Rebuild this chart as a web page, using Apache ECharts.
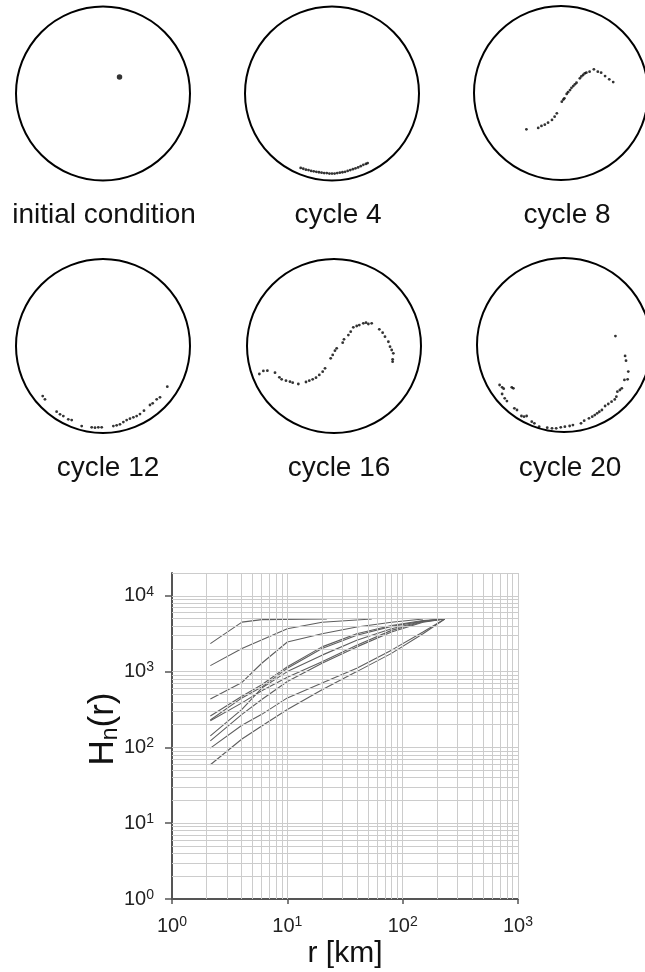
<!DOCTYPE html>
<html><head><meta charset="utf-8">
<script src="https://cdn.jsdelivr.net/npm/echarts@6/dist/echarts.min.js"></script>
<style>html,body{margin:0;padding:0;background:#fff}#c{width:645px;height:972px}</style>
</head><body><div id="c"></div>
<script>
// ---------------- data ----------------
const panelLabels = ['initial condition', 'cycle 4', 'cycle 8', 'cycle 12', 'cycle 16', 'cycle 20'];

// dot positions inside each unit circle (x, y in [-1, 1])
const initialDots = [[0.19, 0.19]];
const cycle4Dots = [[-0.36,-0.855],[-0.33,-0.865],[-0.30,-0.875],[-0.27,-0.88],[-0.24,-0.89],[-0.21,-0.895],[-0.18,-0.90],[-0.15,-0.905],[-0.12,-0.91],[-0.09,-0.915],[-0.06,-0.915],[-0.03,-0.92],[0.00,-0.92],[0.03,-0.92],[0.06,-0.915],[0.09,-0.91],[0.12,-0.905],[0.15,-0.90],[0.18,-0.89],[0.21,-0.88],[0.24,-0.87],[0.27,-0.86],[0.30,-0.85],[0.33,-0.835],[0.36,-0.82],[0.39,-0.81],[0.41,-0.80]];
const cycle8Dots = [[-0.387,-0.418],[-0.249,-0.402],[-0.211,-0.379],[-0.172,-0.364],[-0.134,-0.341],[-0.088,-0.310],[-0.057,-0.272],[-0.031,-0.234],[0.027,-0.100],[0.045,-0.075],[0.057,-0.061],[0.084,-0.011],[0.10,0.01],[0.123,0.034],[0.14,0.06],[0.161,0.080],[0.18,0.10],[0.199,0.118],[0.238,0.169],[0.255,0.19],[0.276,0.207],[0.295,0.225],[0.314,0.234],[0.352,0.245],[0.402,0.272],[0.448,0.245],[0.487,0.234],[0.533,0.195],[0.582,0.157],[0.628,0.126]];
const cycle12Dots = [[-0.693,-0.575],[-0.667,-0.613],[-0.533,-0.755],[-0.494,-0.785],[-0.456,-0.805],[-0.399,-0.843],[-0.360,-0.851],[-0.245,-0.920],[-0.130,-0.935],[-0.092,-0.939],[-0.054,-0.935],[-0.015,-0.935],[0.119,-0.920],[0.157,-0.912],[0.195,-0.900],[0.234,-0.874],[0.272,-0.851],[0.310,-0.835],[0.349,-0.820],[0.387,-0.805],[0.425,-0.782],[0.471,-0.743],[0.540,-0.678],[0.571,-0.659],[0.617,-0.613],[0.655,-0.590],[0.739,-0.467]];
const cycle16Dots = [[-0.858,-0.322],[-0.812,-0.287],[-0.766,-0.284],[-0.678,-0.307],[-0.628,-0.360],[-0.602,-0.383],[-0.552,-0.399],[-0.506,-0.410],[-0.475,-0.422],[-0.410,-0.437],[-0.322,-0.414],[-0.284,-0.399],[-0.245,-0.383],[-0.207,-0.364],[-0.169,-0.333],[-0.130,-0.295],[-0.103,-0.257],[-0.038,-0.142],[-0.015,-0.103],[0.011,-0.054],[0.031,-0.027],[0.100,0.038],[0.115,0.077],[0.165,0.126],[0.192,0.165],[0.222,0.215],[0.261,0.230],[0.291,0.241],[0.337,0.261],[0.368,0.268],[0.395,0.253],[0.433,0.261],[0.521,0.192],[0.559,0.153],[0.586,0.107],[0.625,0.049],[0.644,-0.008],[0.663,-0.046],[0.682,-0.084],[0.674,-0.153],[0.674,-0.180]];
const cycle20Dots = [[-0.731,-0.460],[-0.701,-0.486],[-0.682,-0.502],[-0.701,-0.563],[-0.670,-0.613],[-0.644,-0.644],[-0.586,-0.486],[-0.567,-0.498],[-0.555,-0.728],[-0.524,-0.747],[-0.471,-0.816],[-0.440,-0.824],[-0.409,-0.816],[-0.348,-0.881],[-0.317,-0.900],[-0.260,-0.939],[-0.164,-0.950],[-0.107,-0.958],[-0.057,-0.958],[-0.003,-0.946],[0.046,-0.939],[0.103,-0.931],[0.142,-0.920],[0.238,-0.900],[0.276,-0.870],[0.333,-0.843],[0.372,-0.824],[0.402,-0.805],[0.430,-0.785],[0.456,-0.767],[0.487,-0.747],[0.525,-0.701],[0.563,-0.678],[0.602,-0.651],[0.640,-0.625],[0.659,-0.594],[0.671,-0.536],[0.701,-0.517],[0.724,-0.498],[0.755,-0.402],[0.793,-0.395],[0.801,-0.306],[0.774,-0.180],[0.763,-0.126],[0.648,0.103]];

// H_n(r) curves: [r (km), H]
const curve1 = [[2.15,2340],[4.04,4500],[6,4850],[22,4950]];
const curve2 = [[2.15,1200],[4.04,2020],[10,3680],[20,4490],[54,4950]];
const curve3 = [[2.15,436],[4.04,720],[6,1290],[10,2460],[20,3160],[40,3870],[80,4490],[150,4950]];
const curve4 = [[2.15,259],[4.04,473],[6,671],[10,1160],[20,2120],[40,3160],[80,4060],[150,4720],[232,4950]];
const curve5 = [[2.15,230],[4.04,450],[6,625],[10,1105],[20,2020],[40,3010],[80,3950],[150,4630],[232,4950]];
const curve6 = [[2.15,142],[4.04,317],[6,607],[10,1000],[20,1650],[40,2590],[80,3680],[150,4630],[232,4950]];
const curve7 = [[2.15,122],[4.04,273],[6,428],[10,742],[20,1290],[40,2120],[80,3330],[150,4490],[232,4950]];
const curve8 = [[2.15,98],[4.04,196],[6,273],[10,450],[20,706],[40,1105],[80,1920],[150,3330],[232,4950]];
const curve9 = [[2.15,59],[4.04,129],[6,192],[10,317],[20,578],[40,1000],[80,1740],[150,3160],[232,4950]];
const curve10 = [[2.15,225],[4.04,387],[6,560],[10,845],[20,1350],[40,2230],[80,3500],[150,4560],[232,4950]];
const hCurves = [curve1, curve2, curve3, curve4, curve5, curve6, curve7, curve8, curve9, curve10];

const rTickValues = [1, 10, 100, 1000];
const hTickValues = [1, 10, 100, 1000, 10000];
const rRange = [1, 1000];
const hRange = [1, 20000];

// ---------------- layout / style ----------------
const FONT = '"Liberation Sans", Arial, Helvetica, sans-serif';
const R = 87;
const centers = [[103, 93.5], [332, 93.5], [561, 93], [103, 346], [334, 346], [564, 345]];
const labelPos = [[99, 196], [333, 196], [562, 196], [103, 449], [334, 449], [565, 449]];
const dotSets = [initialDots, cycle4Dots, cycle8Dots, cycle12Dots, cycle16Dots, cycle20Dots];

// log grid lines (1..9 x decades)
const xGridVals = [];
[1, 10, 100].forEach(d => { for (let m = 1; m <= 9; m++) { if (m * d > rRange[0]) xGridVals.push(m * d); } });
xGridVals.push(1000);
const yGridVals = [];
[1, 10, 100, 1000].forEach(d => { for (let m = 1; m <= 9; m++) { if (m * d > hRange[0]) yGridVals.push(m * d); } });
yGridVals.push(10000, 20000);

const grids = [], xAxes = [], yAxes = [], polars = [], angleAxes = [], radiusAxes = [], series = [], titles = [];

centers.forEach((c, i) => {
  grids.push({ left: c[0] - R, top: c[1] - R, width: 2 * R, height: 2 * R });
  xAxes.push({ gridIndex: i, type: 'value', min: -1, max: 1, show: false });
  yAxes.push({ gridIndex: i, type: 'value', min: -1, max: 1, show: false });
  polars.push({ center: [c[0], c[1]], radius: R });
  angleAxes.push({ polarIndex: i, type: 'value', min: 0, max: 360, axisLine: { show: true, lineStyle: { color: '#000', width: 2 } }, axisTick: { show: false }, axisLabel: { show: false }, splitLine: { show: false } });
  radiusAxes.push({ polarIndex: i, type: 'value', min: 0, max: 1, show: false, axisLine: { show: false }, splitLine: { show: false } });
  series.push({
    type: 'scatter', xAxisIndex: i, yAxisIndex: i, data: dotSets[i],
    symbol: 'circle', symbolSize: i === 0 ? 5.5 : 2.8, itemStyle: { color: '#000' }, silent: true
  });
  titles.push({
    text: panelLabels[i], left: labelPos[i][0], top: labelPos[i][1], textAlign: 'center',
    textStyle: { fontSize: 28, fontWeight: 'normal', color: '#111', fontFamily: FONT }
  });
});

// main chart
const G = 6;
grids.push({ left: 172, top: 573, right: 127, bottom: 73 });
const labelFmt = v => '10{s|' + Math.round(Math.log10(v)) + '}';
const labelRich = { s: { fontSize: 14, lineHeight: 14, verticalAlign: 'top', color: '#222', fontFamily: FONT } };
xAxes.push({
  gridIndex: G, type: 'log', logBase: 10, min: rRange[0], max: rRange[1],
  axisLine: { show: true, lineStyle: { color: '#555', width: 2 } },
  axisTick: { show: true, length: 5, customValues: rTickValues, lineStyle: { color: '#555', width: 1.5 } },
  axisLabel: { customValues: rTickValues, formatter: labelFmt, rich: labelRich, fontSize: 20, lineHeight: 22, color: '#222', fontFamily: FONT, margin: 16 },
  splitLine: { show: false },
  name: 'r [km]', nameLocation: 'middle', nameGap: 40, nameMoveOverlap: false,
  nameTextStyle: { fontSize: 30, color: '#111', fontFamily: FONT }
});
yAxes.push({
  gridIndex: G, type: 'log', logBase: 10, min: hRange[0], max: hRange[1],
  axisLine: { show: true, lineStyle: { color: '#555', width: 2 } },
  axisTick: { show: true, length: 7, customValues: hTickValues, lineStyle: { color: '#555', width: 1.5 } },
  axisLabel: { customValues: hTickValues, formatter: labelFmt, rich: labelRich, fontSize: 20, lineHeight: 22, color: '#222', fontFamily: FONT, margin: 18 },
  splitLine: { show: false },
  name: 'H{n|n}(r)', nameLocation: 'middle', nameGap: 50, nameRotate: 90, nameMoveOverlap: false,
  nameTextStyle: { fontSize: 35, lineHeight: 38, color: '#111', fontFamily: FONT, padding: [0, 0, 0, 14],
    rich: { n: { fontSize: 23, lineHeight: 23, verticalAlign: 'bottom', color: '#111', fontFamily: FONT } } }
});

series.push({
  type: 'line', xAxisIndex: G, yAxisIndex: G, data: [[2, 2]], showSymbol: false, symbol: 'none',
  lineStyle: { opacity: 0 }, z: 1, silent: true,
  markLine: {
    silent: true, symbol: ['none', 'none'], label: { show: false }, animation: false,
    lineStyle: { color: '#cccccc', width: 1, type: 'solid' },
    emphasis: { disabled: true },
    data: xGridVals.map(v => ({ xAxis: v })).concat(yGridVals.map(v => ({ yAxis: v })))
  }
});
hCurves.forEach(cv => {
  series.push({
    type: 'line', xAxisIndex: G, yAxisIndex: G, data: cv, symbol: 'none', showSymbol: false,
    lineStyle: { color: '#5e5e5e', width: 1.1 }, z: 3, silent: true
  });
});

const chart = echarts.init(document.getElementById('c'), null, { renderer: 'canvas' });
chart.setOption({
  animation: false,
  backgroundColor: '#fff',
  title: titles,
  grid: grids, xAxis: xAxes, yAxis: yAxes,
  polar: polars, angleAxis: angleAxes, radiusAxis: radiusAxes,
  series: series
});
</script></body></html>
